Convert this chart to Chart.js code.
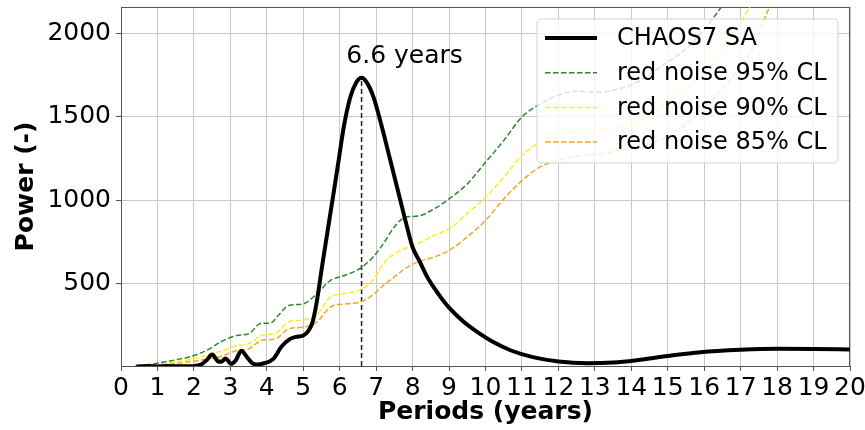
<!DOCTYPE html>
<html>
<head>
<meta charset="utf-8">
<script src="https://cdn.jsdelivr.net/npm/chart.js@4.4.0/dist/chart.umd.min.js"></script>
<style>
  html, body { margin: 0; padding: 0; background: #fff; }
  canvas { display: block; }
</style>
</head>
<body>
<canvas id="chart" width="865" height="430"></canvas>
<script>
// wavelet power of the CHAOS-7 secular acceleration against period (years)
const chaosPeriods = [0.45, 1.0, 1.5, 2.0, 2.2, 2.35, 2.5, 2.65, 2.75, 2.87, 3.02, 3.15, 3.3, 3.45, 3.6, 3.72, 3.9, 4.18, 4.4, 4.64,
    4.8, 5.0, 5.12, 5.24, 5.32, 5.4, 5.5, 5.6, 5.7, 5.83, 5.97, 6.11, 6.29, 6.45, 6.6, 6.75, 6.93, 7.16, 7.39, 7.62,
    7.85, 8.0, 8.2, 8.4, 8.7, 9.0, 9.4, 9.8, 10.2, 10.7, 11.3, 12.0, 12.8, 13.5, 14.1, 15.0, 15.9, 17.0, 18.0, 19.0, 20.0];
const chaosPower = [2, 2, 3, 5, 14, 40, 74, 35, 30, 50, 18, 40, 96, 60, 22, 14, 20, 48, 120, 168,
    180, 188, 210, 258, 330, 430, 580, 720, 860, 1040, 1238, 1438, 1618, 1705, 1735, 1705, 1618, 1438, 1238, 1038,
    838, 718, 630, 540, 440, 355, 270, 205, 150, 98, 58, 32, 22, 26, 38, 65, 88, 102, 108, 107, 104];

// red noise confidence levels
const noisePeriods = [0.45, 1.0, 1.5, 2.0, 2.4, 2.72, 3.18, 3.5, 3.85, 4.1, 4.3, 4.6, 5.0, 5.37, 5.74, 6.15, 6.55, 6.9, 7.2, 7.5,
    7.8, 8.15, 8.6, 9.0, 9.5, 10.0, 10.5, 11.0, 11.5, 12.0, 12.5, 13.16, 13.8, 14.26, 14.6, 15.0, 15.4, 15.9, 16.2, 16.5,
    16.85, 17.3, 17.75, 18.2];
const noise95 = [2, 22, 42, 68, 105, 148, 188, 198, 262, 262, 305, 368, 378, 438, 518, 550, 590, 655, 740, 840,
    898, 905, 950, 1008, 1098, 1228, 1358, 1500, 1578, 1630, 1654, 1650, 1678, 1720, 1770, 1830, 1890, 1998, 2080, 2170,
    2290, 2450, 2600, 2750];
const noise90 = [1, 14, 30, 48, 72, 92, 128, 138, 188, 195, 210, 270, 282, 310, 418, 440, 462, 515, 620, 680,
    710, 740, 790, 828, 920, 1018, 1138, 1268, 1350, 1400, 1412, 1420, 1450, 1478, 1530, 1590, 1650, 1740, 1810, 1910,
    2010, 2180, 2330, 2480];
const noise85 = [0, 7, 20, 34, 48, 60, 98, 108, 158, 164, 175, 228, 238, 268, 358, 378, 388, 430, 490, 540,
    590, 630, 660, 698, 780, 878, 1008, 1118, 1200, 1240, 1265, 1278, 1305, 1318, 1345, 1378, 1440, 1538, 1600, 1670,
    1760, 1900, 2138, 2300];

const periodTicks = [0, 1, 2, 3, 4, 5, 6, 7, 8, 9, 10, 11, 12, 13, 14, 15, 16, 17, 18, 19, 20];
const powerTicks = [500, 1000, 1500, 2000];

const peakPeriod = 6.6;

const FONT = '"DejaVu Sans", Verdana, sans-serif';
Chart.defaults.font.family = FONT;
Chart.defaults.color = '#000';

const toPoints = (xs, ys) => xs.map((x, i) => ({ x: x, y: ys[i] }));

const dashed = (label, color, values) => ({
    label: label,
    data: toPoints(noisePeriods, values),
    borderColor: color,
    borderWidth: 1.5,
    borderDash: [5.5, 2.5]
});

// axes box around the plotting area
const frame = {
    id: 'frame',
    beforeDatasetsDraw(chart) {
        const { ctx, chartArea: a } = chart;
        ctx.save();
        ctx.strokeStyle = '#555';
        ctx.lineWidth = 1;
        ctx.strokeRect(a.left + 0.5, a.top + 0.5, a.right - a.left - 1, a.bottom - a.top);
        ctx.restore();
    }
};

// dashed marker under the spectral peak, with its label
const peakMarker = {
    id: 'peakMarker',
    beforeDatasetsDraw(chart) {
        const { ctx, scales: { x, y } } = chart;
        const px = x.getPixelForValue(peakPeriod);
        const top = y.getPixelForValue(Math.max(...chaosPower));
        ctx.save();
        ctx.strokeStyle = '#222';
        ctx.lineWidth = 1.5;
        ctx.setLineDash([5, 3]);
        ctx.beginPath();
        ctx.moveTo(px, y.bottom);
        ctx.lineTo(px, top);
        ctx.stroke();
        ctx.setLineDash([]);
        ctx.fillStyle = '#000';
        ctx.font = '25px ' + FONT;
        ctx.textAlign = 'center';
        ctx.textBaseline = 'alphabetic';
        ctx.fillText(peakPeriod + ' years', px + 43, top - 15);
        ctx.restore();
    }
};

const roundRect = (ctx, x, y, w, h, r) => {
    ctx.beginPath();
    ctx.moveTo(x + r, y);
    ctx.lineTo(x + w - r, y);
    ctx.quadraticCurveTo(x + w, y, x + w, y + r);
    ctx.lineTo(x + w, y + h - r);
    ctx.quadraticCurveTo(x + w, y + h, x + w - r, y + h);
    ctx.lineTo(x + r, y + h);
    ctx.quadraticCurveTo(x, y + h, x, y + h - r);
    ctx.lineTo(x, y + r);
    ctx.quadraticCurveTo(x, y, x + r, y);
    ctx.closePath();
};

// legend box in the upper right corner of the axes
const boxLegend = {
    id: 'boxLegend',
    afterDatasetsDraw(chart) {
        const { ctx, chartArea: a } = chart;
        const w = 301, h = 144;
        const left = a.right - 313, top = a.top + 12;
        ctx.save();
        roundRect(ctx, left, top, w, h, 5);
        ctx.fillStyle = 'rgba(255, 255, 255, 0.8)';
        ctx.fill();
        ctx.strokeStyle = 'rgba(204, 204, 204, 0.9)';
        ctx.lineWidth = 1;
        ctx.stroke();
        ctx.font = '24px ' + FONT;
        ctx.textBaseline = 'middle';
        ctx.textAlign = 'left';
        chart.data.datasets.forEach((ds, i) => {
            const cy = top + 19 + i * 34.7;
            ctx.strokeStyle = ds.borderColor;
            ctx.lineWidth = ds.borderWidth;
            ctx.setLineDash(ds.borderDash || []);
            ctx.beginPath();
            ctx.moveTo(left + 8, cy);
            ctx.lineTo(left + 60, cy);
            ctx.stroke();
            ctx.fillStyle = '#000';
            ctx.fillText(ds.label, left + 80, cy + 1);
        });
        ctx.restore();
    }
};

new Chart(document.getElementById('chart'), {
    type: 'line',
    data: {
        datasets: [
            {
                label: 'CHAOS7 SA',
                data: toPoints(chaosPeriods, chaosPower),
                borderColor: '#000',
                borderWidth: 4,
                borderJoinStyle: 'round',
                borderCapStyle: 'round'
            },
            dashed('red noise 95% CL', '#2a8a2a', noise95),
            dashed('red noise 90% CL', '#ffee10', noise90),
            dashed('red noise 85% CL', '#f5a623', noise85)
        ]
    },
    options: {
        responsive: false,
        animation: false,
        layout: { padding: { top: 7, right: 15, left: 0, bottom: 0 } },
        elements: {
            point: { radius: 0 },
            line: { cubicInterpolationMode: 'monotone' }
        },
        plugins: {
            legend: { display: false },
            tooltip: { enabled: false }
        },
        scales: {
            x: {
                type: 'linear',
                min: 0,
                max: 20,
                afterBuildTicks: s => { s.ticks = periodTicks.map(v => ({ value: v })); },
                afterFit: s => {
                    s.height = 64;
                    s.paddingLeft = 0;
                    s.paddingRight = 0;
                },
                ticks: { autoSkip: false, maxRotation: 0, font: { size: 25 }, padding: 2, color: '#000' },
                grid: { color: '#c8c8c8', tickColor: '#555', tickLength: 5 },
                border: { display: false },
                title: {
                    display: true,
                    text: 'Periods (years)',
                    font: { size: 25, weight: 'bold' },
                    color: '#000',
                    padding: { top: 0, bottom: 3 }
                }
            },
            y: {
                min: 5,
                max: 2160,
                afterBuildTicks: s => { s.ticks = powerTicks.map(v => ({ value: v })); },
                afterFit: s => {
                    s.width = 121;
                    s.paddingTop = 0;
                    s.paddingBottom = 0;
                },
                ticks: { font: { size: 25 }, padding: 5, color: '#000', callback: v => String(v) },
                grid: { color: '#c8c8c8', tickColor: '#555', tickLength: 5 },
                border: { display: false },
                title: {
                    display: true,
                    text: 'Power (-)',
                    font: { size: 25, weight: 'bold' },
                    color: '#000',
                    padding: { top: 11, bottom: 0 }
                }
            }
        }
    },
    plugins: [frame, peakMarker, boxLegend]
});
</script>
</body>
</html>
